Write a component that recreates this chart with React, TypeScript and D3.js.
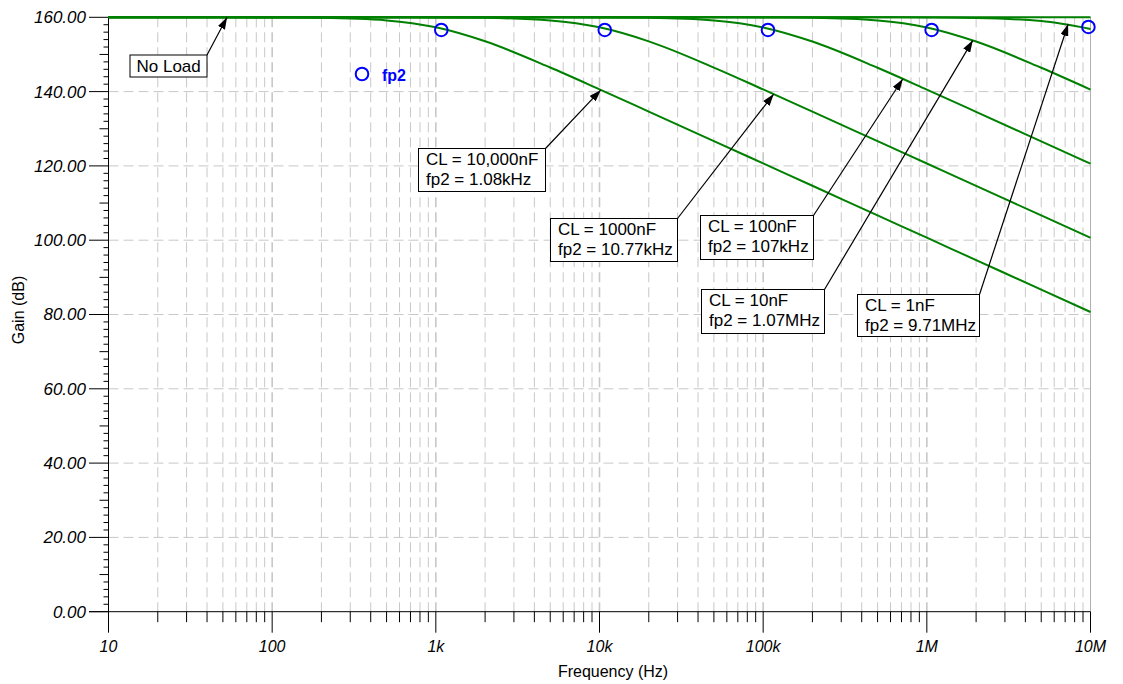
import React from "react";
import * as d3 from "d3";

// ---------- data ----------
const freqs = [10, 20, 50, 100, 200, 500, 1e3, 2e3, 5e3, 1e4, 2e4, 5e4, 1e5, 2e5, 5e5, 1e6, 2e6, 5e6, 1e7];
const gainNoLoad = [160, 160, 160, 160, 160, 160, 160, 160, 160, 160, 160, 160, 160, 160, 160, 160, 160, 160, 160];
const gain10000nF = [160, 160, 159.99, 159.96, 159.85, 159.16, 157.31, 153.54, 146.49, 140.62, 134.63, 126.69, 120.67, 114.65, 106.69, 100.67, 94.65, 86.69, 80.67];
const gain1000nF = [160, 160, 160, 160, 160, 159.99, 159.96, 159.85, 159.15, 157.3, 153.52, 146.47, 140.59, 134.61, 126.66, 120.64, 114.62, 106.66, 100.64];
const gain100nF = [160, 160, 160, 160, 160, 160, 160, 160, 159.99, 159.96, 159.85, 159.14, 157.27, 153.47, 146.41, 140.54, 134.56, 126.61, 120.59];
const gain10nF = [160, 160, 160, 160, 160, 160, 160, 160, 160, 160, 160, 159.99, 159.96, 159.85, 159.14, 157.27, 153.47, 146.41, 140.54];
const gain1nF = [160, 160, 160, 160, 160, 160, 160, 160, 160, 160, 160, 160, 160, 160, 159.99, 159.95, 159.82, 158.98, 156.86];
const seriesGains = [gainNoLoad, gain10000nF, gain1000nF, gain100nF, gain10nF, gain1nF];

const fp2Freqs = [1.08e3, 10.77e3, 107e3, 1.07e6, 9.71e6];
const fp2Gains = [156.6, 156.6, 156.6, 156.6, 157.4];

const yTicks = [0, 20, 40, 60, 80, 100, 120, 140, 160];
const xDecades = [10, 100, 1e3, 1e4, 1e5, 1e6, 1e7];
const xTickLabels = ["10", "100", "1k", "10k", "100k", "1M", "10M"];

const annLines = [
  ["No Load"],
  ["CL = 10,000nF", "fp2 = 1.08kHz"],
  ["CL = 1000nF", "fp2 = 10.77kHz"],
  ["CL = 100nF", "fp2 = 107kHz"],
  ["CL = 10nF", "fp2 = 1.07MHz"],
  ["CL = 1nF", "fp2 = 9.71MHz"],
];
// arrow tips (frequency, gain) on the curves
const annTipFreq = [53, 10.2e3, 116e3, 713e3, 1.91e6, 7.3e6];
const annTipGain = [160, 140.45, 139.35, 143.4, 153.8, 158.2];

// ---------- layout ----------
const W = 1123;
const H = 684;
const X0 = 108.5;
const X1 = 1090.5;
const Y0 = 611.7;
const Y1 = 17.3;
// annotation boxes [x, y, w, h] (pixels)
const annBoxes = [
  [130, 55, 77, 22],
  [418.5, 148.5, 127, 43],
  [550.5, 218.5, 127, 43],
  [700.5, 215.5, 113, 44],
  [701.5, 289.5, 123, 44],
  [857.5, 294.5, 122, 42],
];

const FONT = "Arial, 'Liberation Sans', Helvetica, sans-serif";
const GREEN = "#008000";
const BLUE = "#0000ff";
const GRID = "#c8c8c8";

export default function App() {
  const x = d3.scaleLog().domain([10, 1e7]).range([X0, X1]);
  const y = d3.scaleLinear().domain([0, 160]).range([Y0, Y1]);

  const line = d3
    .line<number>()
    .x((_, i) => x(freqs[i]))
    .y((d) => y(d))
    .curve(d3.curveMonotoneX);

  const minorFreqs: number[] = [];
  for (let k = 1; k < 7; k++) {
    const base = Math.pow(10, k);
    for (let m = 2; m <= 9; m++) minorFreqs.push(m * base);
  }

  const yMinor: number[] = [];
  for (let v = 0; v <= 160; v += 2) if (v % 20 !== 0) yMinor.push(v);

  return (
    <svg
      width={W}
      height={H}
      style={{ position: "absolute", left: 0, top: 0, background: "#fff" }}
      fontFamily={FONT}
    >
      <defs>
        <marker id="ah" viewBox="0 0 12 8" refX="12" refY="4" markerWidth="12" markerHeight="8" orient="auto" markerUnits="userSpaceOnUse">
          <path d="M0,0 L12,4 L0,8 Z" fill="#000" />
        </marker>
      </defs>

      {/* grid */}
      {minorFreqs.map((f, i) => (
        <line key={"vg" + i} x1={x(f)} x2={x(f)} y1={Y1} y2={Y0} stroke={GRID} strokeWidth={1} strokeDasharray="10,5" />
      ))}
      {xDecades.slice(1, -1).map((f, i) => (
        <line key={"vd" + i} x1={x(f)} x2={x(f)} y1={Y1} y2={Y0} stroke={GRID} strokeWidth={1.6} strokeDasharray="10,5" />
      ))}
      {yTicks.slice(1, -1).map((v, i) => (
        <line key={"hg" + i} x1={X0} x2={X1} y1={y(v)} y2={y(v)} stroke={GRID} strokeWidth={1} strokeDasharray="10,5" />
      ))}
      {/* frame */}
      <line x1={X1} x2={X1} y1={Y1} y2={Y0} stroke="#b0b0b0" strokeWidth={1} />
      <line x1={X0} x2={X1} y1={Y1} y2={Y1} stroke="#b0b0b0" strokeWidth={1} />

      {/* axes */}
      <line x1={X0} x2={X0} y1={Y1} y2={Y0} stroke="#000" strokeWidth={1} />
      <line x1={89} x2={X1} y1={Y0} y2={Y0} stroke="#000" strokeWidth={1} />
      {yTicks.map((v, i) => (
        <g key={"yt" + i}>
          <line x1={89} x2={X0} y1={y(v)} y2={y(v)} stroke="#000" strokeWidth={1} />
          <text x={86} y={y(v)} dy="0.35em" textAnchor="end" fontSize={17} fontStyle="italic" fill="#000">
            {v.toFixed(2)}
          </text>
        </g>
      ))}
      {yMinor.map((v, i) => (
        <line key={"ym" + i} x1={v % 10 === 0 ? 99.5 : 103.5} x2={X0} y1={y(v)} y2={y(v)} stroke="#000" strokeWidth={1} />
      ))}
      {minorFreqs.map((f, i) => (
        <line key={"xm" + i} x1={x(f)} x2={x(f)} y1={Y0} y2={Y0 + 10.5} stroke="#000" strokeWidth={1} />
      ))}
      {xDecades.map((f, i) => (
        <g key={"xt" + i}>
          <line x1={x(f)} x2={x(f)} y1={Y0} y2={Y0 + 21} stroke="#000" strokeWidth={1} />
          <text x={x(f)} y={652} textAnchor="middle" fontSize={16} fontStyle="italic" fill="#000">
            {xTickLabels[i]}
          </text>
        </g>
      ))}

      {/* axis titles */}
      <text x={613} y={677} textAnchor="middle" fontSize={16} fill="#000">
        Frequency (Hz)
      </text>
      <text transform={`translate(23.5,310) rotate(-90)`} textAnchor="middle" fontSize={16} fill="#000">
        Gain (dB)
      </text>

      {/* curves */}
      {seriesGains.map((g, i) => (
        <path key={"c" + i} d={line(g) || ""} fill="none" stroke={GREEN} strokeWidth={2} />
      ))}

      {/* fp2 markers */}
      {fp2Freqs.map((f, i) => (
        <circle key={"m" + i} cx={x(f)} cy={y(fp2Gains[i])} r={6.3} fill="none" stroke={BLUE} strokeWidth={2} />
      ))}

      {/* legend */}
      <circle cx={362} cy={74} r={6.3} fill="none" stroke={BLUE} strokeWidth={2} />
      <text x={382} y={80.5} fontSize={16} fontWeight="bold" fill={BLUE}>
        fp2
      </text>

      {/* annotations */}
      {annBoxes.map((b, i) => {
        const [bx, by, bw, bh] = b;
        const lines = annLines[i];
        return (
          <g key={"a" + i}>
            <line
              x1={bx + bw}
              y1={by}
              x2={x(annTipFreq[i])}
              y2={y(annTipGain[i])}
              stroke="#000"
              strokeWidth={1.2}
              markerEnd="url(#ah)"
            />
            <rect x={bx} y={by} width={bw} height={bh} fill="#fff" stroke="#000" strokeWidth={1} />
            {lines.map((t, j) => (
              <text
                key={j}
                x={bx + (lines.length === 1 ? 6.5 : 7.5)}
                y={lines.length === 1 ? by + 17 : by + 16.5 + j * 20}
                fontSize={17}
                fill="#000"
              >
                {t}
              </text>
            ))}
          </g>
        );
      })}
    </svg>
  );
}
